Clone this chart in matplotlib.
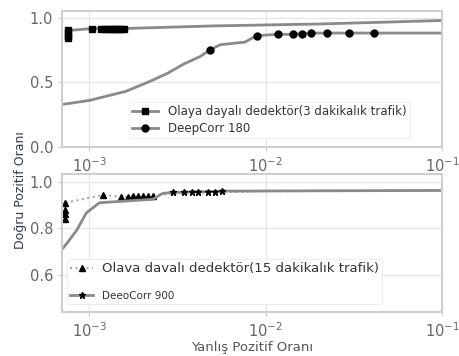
import matplotlib.pyplot as plt
import numpy as np

# top panel (3 dk / DeepCorr 180)
fpr_ev3 = [7.6e-4, 7.6e-4, 7.6e-4, 7.6e-4, 1.04e-3, 1.17e-3, 1.22e-3, 1.27e-3, 1.32e-3,
           1.37e-3, 1.42e-3, 1.47e-3, 1.52e-3, 1.57e-3, 5e-3, 0.02, 0.05, 0.1]
tpr_ev3 = [0.84, 0.86, 0.88, 0.90, 0.915, 0.915, 0.915, 0.915, 0.915,
           0.915, 0.915, 0.915, 0.915, 0.915, 0.935, 0.95, 0.965, 0.977]
mark_ev3 = list(range(14))

fpr_dc180 = [7.1e-4, 1.0e-3, 1.61e-3, 2.23e-3, 2.78e-3, 3.42e-3, 4.26e-3, 4.84e-3, 5.52e-3,
             7.62e-3, 8.89e-3, 0.0117, 0.0142, 0.0161, 0.0181, 0.0223, 0.0296, 0.0409, 0.1]
tpr_dc180 = [0.33, 0.36, 0.43, 0.51, 0.57, 0.64, 0.70, 0.75, 0.79,
             0.81, 0.86, 0.87, 0.87, 0.875, 0.88, 0.88, 0.88, 0.88, 0.88]
mark_dc180 = [7, 10, 11, 12, 13, 14, 15, 16, 17]

# bottom panel (15 dk / DeepCorr 900)
fpr_ev15 = [7.3e-4, 7.3e-4, 7.3e-4, 7.3e-4, 1.2e-3, 1.51e-3, 1.66e-3, 1.77e-3, 1.89e-3,
            2.01e-3, 2.14e-3, 2.29e-3, 3e-3, 0.01, 0.1]
tpr_ev15 = [0.84, 0.86, 0.88, 0.91, 0.944, 0.935, 0.935, 0.937, 0.937,
            0.938, 0.94, 0.94, 0.95, 0.96, 0.963]
mark_ev15 = list(range(12))

fpr_dc900 = [7.1e-4, 8.45e-4, 9.6e-4, 1.14e-3, 2.29e-3, 2.6e-3, 2.97e-3, 3.42e-3, 3.84e-3,
             4.15e-3, 4.72e-3, 5.17e-3, 5.66e-3, 0.1]
tpr_dc900 = [0.715, 0.79, 0.866, 0.91, 0.925, 0.95, 0.955, 0.955, 0.957,
             0.957, 0.958, 0.958, 0.96, 0.963]
mark_dc900 = [6, 7, 8, 9, 10, 11, 12]

xticks = [1e-3, 1e-2, 1e-1]

fig = plt.figure(figsize=(4.6, 3.56), dpi=100)
ax1 = fig.add_axes([0.135, 0.587, 0.826, 0.382])
ax2 = fig.add_axes([0.135, 0.124, 0.826, 0.388])

line_c = '#8a8a8a'
ax1.plot(fpr_ev3, tpr_ev3, color=line_c, lw=2, marker='s', ms=5, mfc='black', mec='black',
         markevery=mark_ev3, label='Olaya dayalı dedektör(3 dakikalık trafik)')
ax1.plot(fpr_dc180, tpr_dc180, color=line_c, lw=2, marker='o', ms=5, mfc='black', mec='black',
         markevery=mark_dc180, label='DeepCorr 180')
ax1.set_ylim(0, 1.05)
ax1.set_yticks([0.0, 0.5, 1.0])

ax2.plot(fpr_ev15, tpr_ev15, color='#aaaaaa', lw=1.5, ls=':', marker='^', ms=5, mfc='black', mec='black',
         markevery=mark_ev15, label='Olava davalı dedektör(15 dakikalık trafik)')
ax2.plot(fpr_dc900, tpr_dc900, color=line_c, lw=2, marker='*', ms=5, mfc='black', mec='black',
         markevery=mark_dc900, label='DeeoCorr 900')
ax2.set_ylim(0.44, 1.035)
ax2.set_yticks([0.6, 0.8, 1.0])

for ax in (ax1, ax2):
    ax.set_xscale('log')
    ax.set_xlim(7e-4, 0.1)
    ax.set_xticks(xticks)
    ax.minorticks_off()
    ax.grid(True, color='#e6e6e6', lw=1)
    ax.set_axisbelow(True)
    for s in ax.spines.values():
        s.set_color('#cfcfcf')
        s.set_linewidth(1.5)
    ax.tick_params(colors='#cfcfcf', labelcolor='#666666', labelsize=10.5, length=3)

leg1 = ax1.legend(loc='lower left', bbox_to_anchor=(0.16, 0.02), fontsize=8.5, frameon=True,
                  edgecolor='#eeeeee', framealpha=1, handlelength=2.2, borderpad=0.3, labelspacing=0.3)
leg1.get_frame().set_linewidth(0.8)
for t in leg1.get_texts():
    t.set_color('#333333')

leg2 = ax2.legend(loc='lower left', bbox_to_anchor=(0.0, 0.02), fontsize=7.5, frameon=True,
                  edgecolor='#eeeeee', framealpha=1, handlelength=2.2, borderpad=0.3, labelspacing=1.5)
leg2.get_frame().set_linewidth(0.8)
leg2.get_texts()[0].set_fontsize(9.5)
for t in leg2.get_texts():
    t.set_color('#333333')

ax2.set_xlabel('Yanlış Pozitif Oranı', fontsize=9.5, color='#555555', labelpad=1)
fig.text(0.045, 0.465, 'Doğru Pozitif Oranı', rotation=90, fontsize=9, color='#333a55',
         ha='center', va='center')

plt.savefig('out.png', dpi=100)
